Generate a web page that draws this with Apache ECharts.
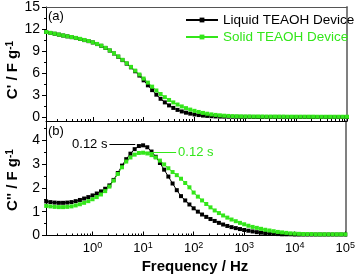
<!DOCTYPE html>
<html><head><meta charset="utf-8">
<script src="https://cdn.jsdelivr.net/npm/echarts@6/dist/echarts.min.js"></script>
<style>html,body{margin:0;padding:0;background:#fff}#c{width:358px;height:278px}</style>
</head><body><div id="c"></div>
<script>
// Frequency (Hz)
const freq = [
0.1212,0.1468,0.1778,0.2154,0.261,0.3162,0.3831,0.4642,0.5623,0.6813,0.8254,
1,1.212,1.468,1.778,2.154,2.61,3.162,3.831,4.642,5.623,6.813,8.254,
10,12.12,14.68,17.78,21.54,26.1,31.62,38.31,46.42,56.23,68.13,82.54,
100,121.2,146.8,177.8,215.4,261,316.2,383.1,464.2,562.3,681.3,825.4,
1000,1212,1468,1778,2154,2610,3162,3831,4642,5623,6813,8254,
10000,12120,14680,17780,21540,26100,31620,38310,46420,56230,68130,82540,
100000];
// C' (F/g)
const liquidCp = [
11.6,11.47,11.36,11.24,11.12,11.01,10.9,10.78,10.65,10.5,10.36,
10.18,9.96,9.72,9.43,9.08,8.68,8.24,7.78,7.3,6.8,6.26,5.68,
5.03,4.35,3.7,3.08,2.52,2.03,1.62,1.28,1.01,0.8,0.63,0.5,
0.39,0.31,0.24,0.19,0.15,0.12,0.1,0.09,0.08,0.07,0.07,0.06,
0.06,0.06,0.05,0.05,0.05,0.05,0.05,0.05,0.05,0.05,0.04,0.04,
0.04,0.04,0.04,0.04,0.04,0.04,0.04,0.04,0.04,0.04,0.04,0.04,
0.04];
const solidCp = [
11.6,11.48,11.37,11.25,11.13,11.02,10.92,10.8,10.67,10.52,10.38,
10.2,9.98,9.74,9.45,9.1,8.7,8.27,7.82,7.35,6.86,6.35,5.82,
5.27,4.72,4.17,3.65,3.17,2.74,2.36,2.03,1.74,1.48,1.25,1.05,
0.88,0.73,0.6,0.49,0.4,0.33,0.27,0.22,0.19,0.16,0.14,0.13,
0.12,0.12,0.11,0.11,0.11,0.1,0.1,0.1,0.1,0.1,0.09,0.09,
0.09,0.09,0.09,0.09,0.09,0.08,0.08,0.08,0.08,0.08,0.08,0.08,
0.08];
// C'' (F/g)
const liquidCpp = [
1.43,1.4,1.38,1.37,1.37,1.38,1.4,1.44,1.49,1.55,1.61,
1.68,1.76,1.85,1.96,2.1,2.33,2.62,2.93,3.2,3.43,3.62,3.75,
3.78,3.7,3.52,3.3,3.04,2.76,2.47,2.18,1.9,1.65,1.47,1.3,
1.14,1.0,0.88,0.78,0.69,0.61,0.53,0.46,0.4,0.35,0.31,0.27,
0.23,0.2,0.17,0.14,0.12,0.1,0.08,0.07,0.06,0.05,0.05,0.05,
0.04,0.04,0.04,0.04,0.04,0.04,0.04,0.04,0.04,0.04,0.04,0.04,
0.04];
const solidCpp = [
1.24,1.22,1.2,1.19,1.19,1.2,1.22,1.26,1.31,1.37,1.44,
1.52,1.61,1.72,1.86,2.05,2.3,2.58,2.86,3.1,3.27,3.39,3.46,
3.47,3.44,3.37,3.27,3.14,2.98,2.82,2.66,2.53,2.38,2.2,2.02,
1.8,1.63,1.47,1.32,1.18,1.05,0.94,0.84,0.75,0.67,0.6,0.53,
0.47,0.41,0.36,0.32,0.28,0.24,0.21,0.18,0.15,0.13,0.11,0.09,
0.08,0.07,0.06,0.06,0.06,0.05,0.05,0.05,0.05,0.05,0.05,0.05,
0.05];
// Tick values
const xMajorTicks = [1, 10, 100, 1000, 10000, 100000];
const xMinorTicks = [];
[0.1, 1, 10, 100, 1000, 10000].forEach(d => { for (let m = 2; m <= 9; m++) { const v = m * d; if (v > 0.12 && v < 100000) xMinorTicks.push(v); } });
const cpTicks = [0, 3, 6, 9, 12, 15];
const cpMinor = [1.5, 4.5, 7.5, 10.5, 13.5];
const cppTicks = [0, 1, 2, 3, 4];
const cppMinor = [0.5, 1.5, 2.5, 3.5, 4.5];
const seriesNames = ['Liquid TEAOH Device', 'Solid TEAOH Device'];
const BLACK = '#000000', GREEN = '#33e61a';
const FF = "'Liberation Sans', Arial, sans-serif";
const XMIN = 0.12, XMAX = 100000;

const pair = arr => freq.map((f, i) => [f, arr[i]]);

function xAxes(grid, withLabels) {
  const base = { gridIndex: grid, type: 'log', logBase: 10, min: XMIN, max: XMAX, splitLine: { show: false } };
  return [
    Object.assign({}, base, {
      position: 'bottom',
      axisLine: { show: true, onZero: false, lineStyle: { color: '#000', width: 1 } },
      axisTick: { show: true, inside: true, length: 4, customValues: xMajorTicks, lineStyle: { color: '#000' } },
      axisLabel: withLabels ? {
        show: true, customValues: xMajorTicks, margin: 6,
        formatter: v => '{b|10}{s|' + Math.round(Math.log10(v)) + '}',
        rich: { b: { fontSize: 13, fontFamily: FF, color: '#000' }, s: { fontSize: 9, fontFamily: FF, color: '#000', verticalAlign: 'top' } }
      } : { show: false }
    }),
    Object.assign({}, base, {
      position: 'bottom',
      axisLine: { show: false, onZero: false },
      axisTick: { show: true, inside: true, length: 2, customValues: xMinorTicks, lineStyle: { color: '#000' } },
      axisLabel: { show: false }
    }),
    Object.assign({}, base, {
      position: 'top',
      axisLine: { show: grid === 0, onZero: false, lineStyle: { color: '#555', width: 1 } },
      axisTick: { show: false }, axisLabel: { show: false }
    })
  ];
}
function yAxes(grid, min, max, ticks, minor) {
  const base = { gridIndex: grid, type: 'value', min: min, max: max, splitLine: { show: false } };
  return [
    Object.assign({}, base, {
      position: 'left',
      axisLine: { show: true, onZero: false, lineStyle: { color: '#000', width: 1 } },
      axisTick: { show: true, inside: false, length: 4, customValues: ticks, lineStyle: { color: '#000' } },
      axisLabel: { show: true, customValues: ticks, fontSize: 14, fontFamily: FF, color: '#000', margin: 6 }
    }),
    Object.assign({}, base, {
      position: 'left',
      axisLine: { show: false, onZero: false },
      axisTick: { show: true, inside: false, length: 2, customValues: minor, lineStyle: { color: '#000' } },
      axisLabel: { show: false }
    }),
    Object.assign({}, base, {
      position: 'right',
      axisLine: { show: true, onZero: false, lineStyle: { color: '#808080', width: 2 } },
      axisTick: { show: false }, axisLabel: { show: false }
    })
  ];
}

const lineSeries = (name, color, xi, yi, data, extra) => Object.assign({
  name: name, type: 'line', xAxisIndex: xi, yAxisIndex: yi, data: data,
  symbol: 'rect', symbolSize: 4, showAllSymbol: true,
  itemStyle: { color: color }, lineStyle: { color: color, width: 1 },
  animation: false
}, extra || {});

const chart = echarts.init(document.getElementById('c'), null, { renderer: 'canvas' });
chart.setOption({
  backgroundColor: '#fff',
  animation: false,
  textStyle: { fontFamily: FF },
  grid: [
    { left: 46, top: 5.5, width: 301, height: 115.5 },
    { left: 46, top: 121, width: 301, height: 114.5 }
  ],
  xAxis: [].concat(xAxes(0, false), xAxes(1, true)),
  yAxis: [].concat(yAxes(0, -0.5, 15, cpTicks, cpMinor), yAxes(1, 0, 4.8, cppTicks, cppMinor)),
  legend: {
    orient: 'vertical', left: 180, top: 8, itemWidth: 32, itemHeight: 6, itemGap: 3,
    textStyle: { fontSize: 13.5, fontFamily: FF },
    data: [
      { name: seriesNames[0], textStyle: { color: BLACK } },
      { name: seriesNames[1], textStyle: { color: GREEN } }
    ]
  },
  series: [
    lineSeries(seriesNames[0], BLACK, 0, 0, pair(liquidCp)),
    lineSeries(seriesNames[1], GREEN, 0, 0, pair(solidCp)),
    lineSeries(seriesNames[0], BLACK, 3, 3, pair(liquidCpp), {
      markLine: {
        silent: true, animation: false, symbol: ['none', 'arrow'], symbolSize: [0, 6],
        lineStyle: { color: BLACK, width: 1, type: 'solid' },
        label: { show: true, position: 'start', formatter: '0.12 s', color: BLACK, fontSize: 13, fontFamily: FF, distance: 2 },
        data: [[{ coord: [2.16, 3.82] }, { coord: [7.0, 3.82] }]]
      }
    }),
    lineSeries(seriesNames[1], GREEN, 3, 3, pair(solidCpp), {
      markLine: {
        silent: true, animation: false, symbol: ['none', 'none'],
        lineStyle: { color: GREEN, width: 1, type: 'solid' },
        label: { show: true, position: 'end', formatter: '0.12 s', color: GREEN, fontSize: 13, fontFamily: FF, distance: 2 },
        data: [[{ coord: [9.6, 3.47] }, { coord: [45, 3.47] }]]
      }
    })
  ],
  graphic: [
    { type: 'text', left: 48, top: 10, style: { text: '(a)', fontSize: 13, fontFamily: FF, fill: '#000' } },
    { type: 'text', left: 48, top: 125, style: { text: '(b)', fontSize: 13, fontFamily: FF, fill: '#000' } },
    { type: 'text', x: 13, y: 70, rotation: Math.PI / 2,
      style: { text: "{n|C' / F g}{s|-1}", align: 'center', verticalAlign: 'middle', fill: '#000',
        rich: { n: { fontSize: 15, fontWeight: 'bold', fontFamily: FF }, s: { fontSize: 10, fontWeight: 'bold', fontFamily: FF, verticalAlign: 'top' } } } },
    { type: 'text', x: 13, y: 180, rotation: Math.PI / 2,
      style: { text: "{n|C'' / F g}{s|-1}", align: 'center', verticalAlign: 'middle', fill: '#000',
        rich: { n: { fontSize: 15, fontWeight: 'bold', fontFamily: FF }, s: { fontSize: 10, fontWeight: 'bold', fontFamily: FF, verticalAlign: 'top' } } } },
    { type: 'text', x: 195, y: 267, style: { text: 'Frequency / Hz', align: 'center', verticalAlign: 'middle', fontSize: 15, fontWeight: 'bold', fontFamily: FF, fill: '#000' } }
  ]
});
</script>
</body></html>
